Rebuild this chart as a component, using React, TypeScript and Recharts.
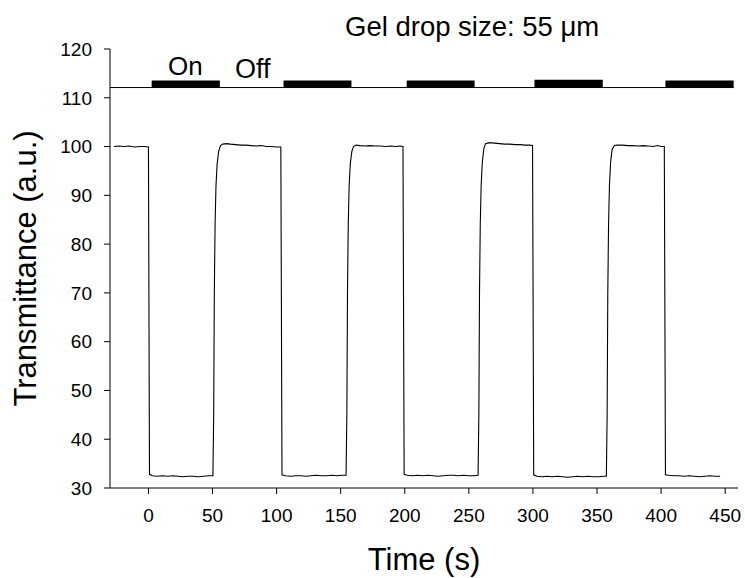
import React from 'react';
import { LineChart, Line, XAxis, YAxis, ReferenceLine, ReferenceArea, Label } from 'recharts';

const timeS = [
  -27, -23, -19, -15, -11, -7, -3, 0,
  0.8, 3, 7, 11, 15, 19, 23, 27, 31, 35, 39, 43, 47, 50.3,
  50.9, 51.4, 52.0, 52.7, 53.6, 54.8, 56.2, 58, 61, 64, 68, 72, 76, 80, 84, 88, 92, 96, 100, 103.3,
  104.2, 107, 111, 115, 119, 123, 127, 131, 135, 139, 143, 147, 151, 154.2,
  154.8, 155.3, 155.9, 156.6, 157.5, 158.7, 160, 162, 165, 169, 173, 177, 181, 185, 189, 193, 196, 198.6,
  199.5, 202, 206, 210, 214, 218, 222, 226, 230, 234, 238, 242, 246, 250, 254, 257.2,
  257.8, 258.3, 258.9, 259.6, 260.5, 261.7, 263, 266, 270, 274, 278, 282, 286, 290, 294, 297, 299.7,
  300.6, 303, 307, 311, 315, 319, 323, 327, 331, 335, 339, 343, 347, 351, 355, 357.3,
  357.9, 358.4, 359, 359.7, 360.6, 361.8, 363.5, 366, 370, 374, 378, 382, 386, 390, 394, 397, 400, 402.5,
  403.4, 406, 410, 414, 418, 422, 426, 430, 434, 438, 442, 446,
];

const transmittance = [
  100.0, 100.1, 100.0, 100.1, 99.9, 100.0, 100.0, 99.9,
  32.8, 32.5, 32.4, 32.5, 32.4, 32.5, 32.4, 32.3, 32.4, 32.4, 32.3, 32.4, 32.5, 32.5,
  45, 70, 84, 92, 96.5, 99.0, 100.2, 100.5, 100.6, 100.5, 100.4, 100.3, 100.3, 100.2, 100.1, 100.2, 100.0, 100.0, 99.9, 99.9,
  32.7, 32.5, 32.4, 32.5, 32.5, 32.4, 32.5, 32.6, 32.5, 32.5, 32.6, 32.5, 32.6, 32.6,
  45, 70, 84, 92, 96.5, 99.0, 100.0, 100.3, 100.2, 100.1, 100.2, 100.1, 100.1, 100.0, 100.1, 100.0, 100.1, 100.0,
  32.8, 32.6, 32.5, 32.6, 32.5, 32.6, 32.5, 32.4, 32.5, 32.6, 32.6, 32.5, 32.6, 32.5, 32.5, 32.6,
  45, 70, 84, 92, 96.8, 99.6, 100.6, 100.8, 100.7, 100.6, 100.5, 100.5, 100.4, 100.4, 100.3, 100.3, 100.2,
  32.7, 32.4, 32.3, 32.4, 32.3, 32.4, 32.3, 32.2, 32.3, 32.4, 32.3, 32.4, 32.3, 32.3, 32.4, 32.4,
  45, 70, 84, 92, 96.8, 99.4, 100.2, 100.3, 100.3, 100.2, 100.2, 100.1, 100.2, 100.1, 100.0, 100.2, 100.0, 100.0,
  32.7, 32.6, 32.5, 32.5, 32.4, 32.5, 32.4, 32.3, 32.4, 32.5, 32.4, 32.4,
];

const onStart = [2.5, 105.4, 201.5, 301.2, 403.4];
const onEnd = [55.7, 158.4, 254.5, 354.5, 456.6];
const onTop = [113.55, 113.55, 113.55, 113.7, 113.55];
const markerLevel = 112.1;
const markerLineStart = -30;
const markerLineEnd = 456.6;

const xTicks = [0, 50, 100, 150, 200, 250, 300, 350, 400, 450];
const yTicks = [30, 40, 50, 60, 70, 80, 90, 100, 110, 120];
const xDomain = [-30, 460];
const yDomain = [30, 120];

const titleText = 'Gel drop size: 55 \u03bcm';
const onLabel = 'On';
const offLabel = 'Off';
const xTitle = 'Time (s)';
const yTitle = 'Transmittance (a.u.)';

const data = timeS.map((t, i) => ({ t, v: transmittance[i] }));

const FONT = '"Liberation Sans", Arial, Helvetica, sans-serif';

export default function App() {
  return (
    <div style={{ position: 'absolute', left: 0, top: 0, width: 745, height: 578, background: '#fff' }}>
      <LineChart
        width={745}
        height={578}
        data={data}
        margin={{ top: 49, right: 7, bottom: 0, left: 0 }}
        style={{ fontFamily: FONT }}
      >
        <XAxis
          type="number"
          dataKey="t"
          domain={xDomain}
          ticks={xTicks}
          interval={0}
          allowDataOverflow
          height={90}
          tickSize={6}
          tickMargin={15}
          axisLine={{ stroke: '#000', strokeWidth: 1 }}
          tickLine={{ stroke: '#000', strokeWidth: 1 }}
          tick={{ fill: '#000', fontSize: 19, fontFamily: FONT }}
        >
          <Label
            value={xTitle}
            position="insideBottom"
            offset={8}
            style={{ fontSize: 31, fill: '#000', fontFamily: FONT }}
          />
        </XAxis>
        <YAxis
          type="number"
          domain={yDomain}
          ticks={yTicks}
          interval={0}
          allowDataOverflow
          width={110}
          tickSize={6}
          tickMargin={12}
          axisLine={{ stroke: '#000', strokeWidth: 1 }}
          tickLine={{ stroke: '#000', strokeWidth: 1 }}
          tick={{ fill: '#000', fontSize: 19, fontFamily: FONT }}
        >
          <Label
            value={yTitle}
            angle={-90}
            position="insideLeft"
            offset={25}
            style={{ fontSize: 31, fill: '#000', fontFamily: FONT, textAnchor: 'middle' }}
          />
        </YAxis>
        <ReferenceLine
          segment={[
            { x: markerLineStart, y: markerLevel },
            { x: markerLineEnd, y: markerLevel },
          ]}
          stroke="#000"
          strokeWidth={1}
        />
        {onStart.map((s, i) => (
          <ReferenceArea
            key={'on' + i}
            x1={s}
            x2={onEnd[i]}
            y1={markerLevel - 0.1}
            y2={onTop[i]}
            fill="#000"
            fillOpacity={1}
            stroke="none"
          />
        ))}
        <Line
          type="linear"
          dataKey="v"
          stroke="#000"
          strokeWidth={1.1}
          dot={false}
          activeDot={false}
          isAnimationActive={false}
        />
        <text x={345} y={36} fontSize={27.5} fill="#000" fontFamily={FONT}>
          {titleText}
        </text>
        <text x={168} y={75} fontSize={26} fill="#000" fontFamily={FONT}>
          {onLabel}
        </text>
        <text x={235} y={77.5} fontSize={27} fill="#000" fontFamily={FONT}>
          {offLabel}
        </text>
      </LineChart>
    </div>
  );
}
